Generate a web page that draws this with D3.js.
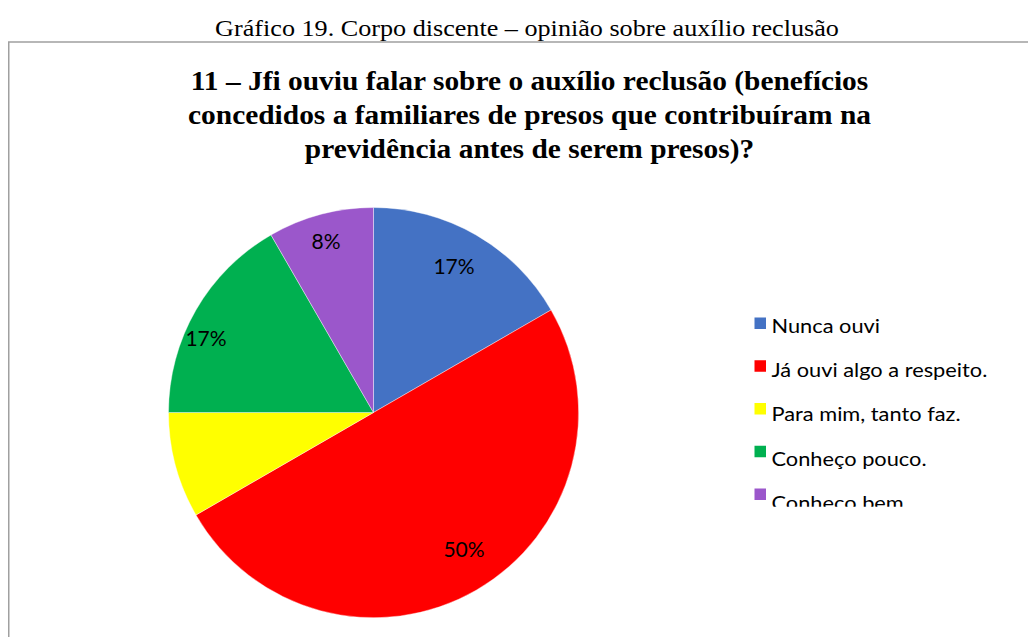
<!DOCTYPE html>
<html>
<head>
<meta charset="utf-8">
<script src="https://cdn.jsdelivr.net/npm/d3@7"></script>
<style>
  html, body { margin: 0; padding: 0; background: #fff; }
  svg { display: block; }
</style>
</head>
<body>
<div id="chart"></div>
<script>
// Chart data
const categories = [
  'Nunca ouvi',
  'Já ouvi algo a respeito.',
  'Para mim, tanto faz.',
  'Conheço pouco.',
  'Conheço bem'
];
const values = [2, 6, 1, 2, 1];
const colors = ['#4472C4', '#FF0000', '#FFFF00', '#00B050', '#9B57CB'];
const showLabel = [true, true, false, true, true];

const caption = 'Gráfico 19. Corpo discente – opinião sobre auxílio reclusão';
const titleLines = [
  '11 – Jfi ouviu falar sobre o auxílio reclusão (benefícios',
  'concedidos a familiares de presos que contribuíram na',
  'previdência antes de serem presos)?'
];

// Layout
const width = 1028, height = 637;
const cx = 373.5, cy = 412.5, radius = 205;
const stretch = 1.09; // the original image is slightly wide
const labelNudge = [[-1.5, -3.5], [8.5, -4.5], [0, 0], [-25.5, 8.5], [-5, -12]];
const sansFont = 'Lato, "Open Sans", sans-serif';
const serifFont = '"Liberation Serif", "Times New Roman", serif';

const svg = d3.select('#chart')
  .append('svg')
  .attr('width', width)
  .attr('height', height);

// Caption above the frame
svg.append('text')
  .attr('transform', `translate(527,36) scale(${stretch},1)`)
  .attr('text-anchor', 'middle')
  .attr('font-family', serifFont)
  .attr('font-size', 24)
  .attr('fill', '#000')
  .text(caption);

// Frame (top and left edges only visible)
svg.append('path')
  .attr('d', `M8.75,${height} V42 H${width}`)
  .attr('fill', 'none')
  .attr('stroke', '#a0a0a0')
  .attr('stroke-width', 1.5);

// Title
svg.append('text')
  .attr('transform', `translate(529.5,0) scale(${stretch},1)`)
  .attr('text-anchor', 'middle')
  .attr('font-family', serifFont)
  .attr('font-weight', 'bold')
  .attr('font-size', 27)
  .attr('fill', '#000')
  .selectAll('tspan')
  .data(titleLines)
  .join('tspan')
  .attr('x', 0)
  .attr('y', (d, i) => 90 + i * 34)
  .text(d => d);

// Pie
const pie = d3.pie().sort(null).value(d => d);
const arcs = pie(values);
const arc = d3.arc().innerRadius(0).outerRadius(radius);
const labelArc = d3.arc().innerRadius(radius * 0.8).outerRadius(radius * 0.8);
const total = d3.sum(values);
const pct = d3.format('.0%');

const pieGroup = svg.append('g')
  .attr('transform', `translate(${cx},${cy})`);

pieGroup.selectAll('path')
  .data(arcs)
  .join('path')
  .attr('d', arc)
  .attr('fill', (d, i) => colors[i])
  .attr('stroke', '#fff')
  .attr('stroke-width', 0.4);

pieGroup.selectAll('text')
  .data(arcs.filter((d, i) => showLabel[i]))
  .join('text')
  .attr('transform', d => {
    const [x, y] = labelArc.centroid(d);
    const [nx, ny] = labelNudge[d.index];
    return `translate(${x + nx},${y + ny})`;
  })
  .attr('text-anchor', 'middle')
  .attr('dy', '0.35em')
  .attr('font-family', sansFont)
  .attr('font-size', 21)
  .attr('fill', '#000')
  .text(d => pct(d.data / total));

// Legend (clipped at the bottom like the original)
svg.append('clipPath')
  .attr('id', 'legend-clip')
  .append('rect')
  .attr('x', 740)
  .attr('y', 300)
  .attr('width', 288)
  .attr('height', 206.7);

const legend = svg.append('g')
  .attr('clip-path', 'url(#legend-clip)');

const swatchY = d3.scalePoint()
  .domain(categories)
  .range([317.5, 317.5 + 42.75 * 4]);
const textY = d3.scalePoint()
  .domain(categories)
  .range([332.7, 332.7 + 44.3 * 4]);

legend.selectAll('rect')
  .data(categories)
  .join('rect')
  .attr('x', 754.5)
  .attr('y', d => swatchY(d))
  .attr('width', 11.5)
  .attr('height', 11.5)
  .attr('fill', (d, i) => colors[i]);

legend.selectAll('text')
  .data(categories)
  .join('text')
  .attr('transform', d => `translate(771.5,${textY(d)}) scale(${stretch},1)`)
  .attr('font-family', sansFont)
  .attr('font-size', 20)
  .attr('fill', '#000')
  .text(d => d);
</script>
</body>
</html>
